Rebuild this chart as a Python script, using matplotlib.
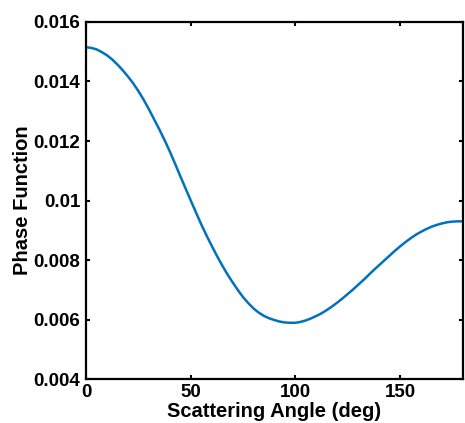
import matplotlib
matplotlib.use("Agg")
import matplotlib.pyplot as plt

angle_deg = [0, 2.5, 5, 7.5, 10, 12.5, 15, 17.5, 20, 22.5, 25, 27.5, 30, 32.5, 35, 37.5,
             40, 42.5, 45, 47.5, 50, 52.5, 55, 57.5, 60, 62.5, 65, 67.5, 70, 72.5, 75, 77.5,
             80, 82.5, 85, 87.5, 90, 92.5, 95, 97.5, 100, 102.5, 105, 107.5, 110, 112.5,
             115, 117.5, 120, 122.5, 125, 127.5, 130, 132.5, 135, 137.5, 140, 142.5, 145,
             147.5, 150, 152.5, 155, 157.5, 160, 162.5, 165, 167.5, 170, 172.5, 175, 177.5, 180]
phase = [0.01515, 0.01513, 0.01508, 0.01499, 0.01488, 0.01474, 0.01457, 0.01438, 0.01417,
         0.01394, 0.01368, 0.01339, 0.01307, 0.01273, 0.01239, 0.01203, 0.01165, 0.01124,
         0.01082, 0.01041, 0.01000, 0.00960, 0.00920, 0.00883, 0.00848, 0.00814, 0.00782,
         0.00752, 0.00725, 0.00699, 0.00675, 0.00655, 0.00637, 0.00623, 0.00612, 0.00604,
         0.00598, 0.00593, 0.00590, 0.00589, 0.00589, 0.00592, 0.00597, 0.00604, 0.00612,
         0.00621, 0.00632, 0.00644, 0.00657, 0.00671, 0.00686, 0.00701, 0.00717, 0.00733,
         0.00750, 0.00767, 0.00783, 0.00799, 0.00815, 0.00831, 0.00846, 0.00860, 0.00873,
         0.00885, 0.00895, 0.00904, 0.00912, 0.00918, 0.00923, 0.00927, 0.00929, 0.00930, 0.00930]

xticks = [0, 50, 100, 150]
xtick_labels = ["0", "50", "100", "150"]
yticks = [0.004, 0.006, 0.008, 0.010, 0.012, 0.014, 0.016]
ytick_labels = ["0.004", "0.006", "0.008", "0.01", "0.012", "0.014", "0.016"]

plt.rcParams['font.family'] = ['Liberation Sans', 'DejaVu Sans']
plt.rcParams['font.weight'] = 'bold'

fig = plt.figure(figsize=(4.65, 4.23), dpi=100)
ax = fig.add_axes([0.185, 0.104, 0.8107, 0.844])
ax.plot(angle_deg, phase, color='#0072BD', linewidth=1.8, solid_joinstyle='round')
ax.set_xlim(0, 180)
ax.set_ylim(0.004, 0.016)
ax.set_xticks(xticks)
ax.set_xticklabels(xtick_labels)
ax.set_yticks(yticks)
ax.set_yticklabels(ytick_labels)
ax.tick_params(direction='in', top=True, right=True, length=3, width=1.5,
               labelsize=13.5)
ax.tick_params(axis='x', pad=3.5)
ax.tick_params(axis='y', pad=4)
for lab in ax.get_xticklabels() + ax.get_yticklabels():
    lab.set_fontweight('bold')
for s in ax.spines.values():
    s.set_linewidth(1.6)
ax.set_xlabel("Scattering Angle (deg)", fontsize=14.5, fontweight='bold', labelpad=0.5)
ax.set_ylabel("Phase Function", fontsize=14.5, fontweight='bold', labelpad=1)
fig.savefig("out.png", dpi=100)
